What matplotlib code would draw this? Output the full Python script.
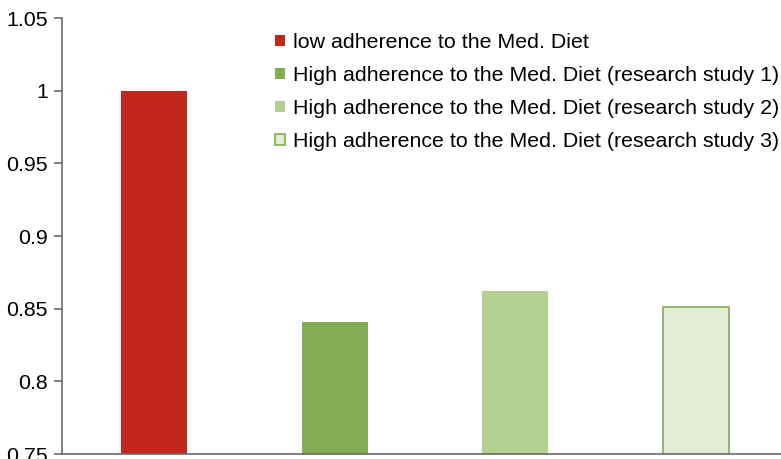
import matplotlib.pyplot as plt
from matplotlib.patches import Patch

plt.rcParams['font.family'] = ['Liberation Sans', 'DejaVu Sans']

labels = ['low adherence to the Med. Diet',
          'High adherence to the Med. Diet (research study 1)',
          'High adherence to the Med. Diet (research study 2)',
          'High adherence to the Med. Diet (research study 3)']
values = [1.0, 0.841, 0.862, 0.851]
fills = ['#C1271B', '#83AD52', '#B3D190', '#E3EDD5']
edges = ['#C1271B', '#83AD52', '#B3D190', '#83AD52']
yticks = [0.75, 0.8, 0.85, 0.9, 0.95, 1.0, 1.05]
ytick_labels = ['0.75', '0.8', '0.85', '0.9', '0.95', '1', '1.05']

W, H = 781, 459
fig = plt.figure(figsize=(W / 100, H / 100), dpi=100)
ax = fig.add_axes([62 / W, 5 / H, (781 - 62) / W, (454 - 18) / H])

x = list(range(len(values)))
for i in x:
    ax.bar(i, values[i], width=0.365, bottom=0, color=fills[i],
           edgecolor=edges[i], linewidth=1.2 if i == 3 else 0, zorder=2)

ax.set_ylim(0.75, 1.05)
ax.set_xlim(-0.51, 3.47)
ax.set_yticks(yticks)
ax.set_yticklabels(ytick_labels, fontsize=15.4)
ax.set_xticks([])
for s in ['top', 'right']:
    ax.spines[s].set_visible(False)
for s in ['left', 'bottom']:
    ax.spines[s].set_color('#6b6b6b')
    ax.spines[s].set_linewidth(1.2)
ax.tick_params(axis='y', length=6, color='#6b6b6b', width=1.2, pad=4)

handles = [Patch(facecolor=fills[i], edgecolor=edges[i],
                 linewidth=1.2 if i == 3 else 0) for i in x]
fig.legend(handles, labels, loc='upper left', bbox_to_anchor=(275 / W, 1 - 33 / H),
           frameon=False, fontsize=15.4, handlelength=0.45, handleheight=0.45,
           handletextpad=0.37, labelspacing=0.66, borderaxespad=0, borderpad=0)

fig.savefig('out.png', dpi=100)
